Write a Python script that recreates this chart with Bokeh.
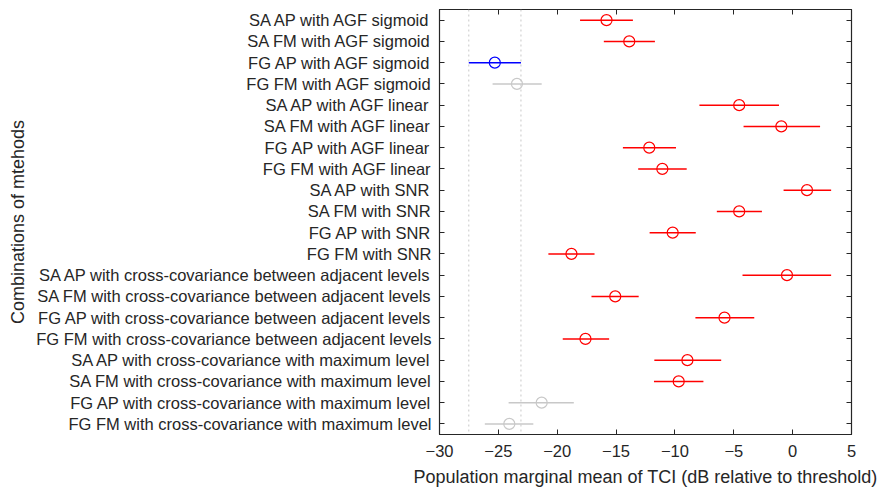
from bokeh.plotting import figure
from bokeh.models import Range1d, LinearAxis, FixedTicker, Span, ColumnDataSource
from bokeh.embed import file_html
from bokeh.resources import INLINE

labels = [
    "SA AP with AGF sigmoid",
    "SA FM with AGF sigmoid",
    "FG AP with AGF sigmoid",
    "FG FM with AGF sigmoid",
    "SA AP with AGF linear",
    "SA FM with AGF linear",
    "FG AP with AGF linear",
    "FG FM with AGF linear",
    "SA AP with SNR",
    "SA FM with SNR",
    "FG AP with SNR",
    "FG FM with SNR",
    "SA AP with cross-covariance between adjacent levels",
    "SA FM with cross-covariance between adjacent levels",
    "FG AP with cross-covariance between adjacent levels",
    "FG FM with cross-covariance between adjacent levels",
    "SA AP with cross-covariance with maximum level",
    "SA FM with cross-covariance with maximum level",
    "FG AP with cross-covariance with maximum level",
    "FG FM with cross-covariance with maximum level",
]
means = [-15.81, -13.88, -25.30, -23.42, -4.54, -0.96, -12.18, -11.07, 1.22, -4.54,
         -10.19, -18.79, -0.48, -15.07, -5.79, -17.60, -8.94, -9.68, -21.32, -24.07]
lower = [-18.06, -16.04, -27.51, -25.49, -7.92, -4.17, -14.42, -13.12, -0.77, -6.44,
         -12.15, -20.75, -4.26, -17.09, -8.26, -19.53, -11.75, -11.78, -24.13, -26.15]
upper = [-13.57, -11.70, -23.08, -21.32, -1.16, 2.33, -9.91, -9.00, 3.27, -2.61,
         -8.23, -16.83, 3.27, -13.08, -3.26, -15.59, -6.07, -7.58, -18.59, -22.03]
group_status = ["diff", "diff", "selected", "same", "diff", "diff", "diff", "diff", "diff", "diff",
                "diff", "diff", "diff", "diff", "diff", "diff", "diff", "diff", "same", "same"]
x_ticks = [-30, -25, -20, -15, -10, -5, 0, 5]

status_colors = {"diff": "#ff0000", "selected": "#0000ff", "same": "#c8c8c8"}
TXT = "#262626"
FONT = "Liberation Sans"

rows = list(range(1, len(labels) + 1))
colors = [status_colors[s] for s in group_status]
src = ColumnDataSource(dict(y=rows, m=means, lo=lower, hi=upper, c=colors))

p = figure(width=882, height=489, output_backend="svg", toolbar_location=None,
           x_range=Range1d(-30, 5), y_range=Range1d(len(labels) + 0.5, 0.5),
           min_border_left=439, min_border_right=31, min_border_top=9, min_border_bottom=52)
p.grid.visible = False
p.outline_line_color = TXT
p.outline_line_width = 1.2
p.background_fill_color = "white"
p.border_fill_color = "white"

# comparison interval of the selected group
sel = group_status.index("selected")
for xv in (lower[sel], upper[sel]):
    p.add_layout(Span(location=xv, dimension="height", line_color="#c8c8c8",
                      line_dash="2 3", line_width=1))

p.segment(x0="lo", x1="hi", y0="y", y1="y", color="c", line_width=1.5, source=src)
p.scatter(x="m", y="y", marker="circle", size=11, fill_color=None, line_color="c",
          line_width=1.2, source=src)

# axes
xa = p.xaxis[0]
xa.ticker = FixedTicker(ticks=x_ticks)
ya = p.yaxis[0]
ya.ticker = FixedTicker(ticks=rows)
ya.major_label_overrides = {r: l for r, l in zip(rows, labels)}

for ax in (xa, ya):
    ax.major_tick_in = 5
    ax.major_tick_out = 0
    ax.minor_tick_line_color = None
    ax.axis_line_color = TXT
    ax.major_tick_line_color = TXT
    ax.major_label_text_color = TXT
    ax.major_label_text_font = FONT
    ax.major_label_text_font_size = "16.5px"
    ax.axis_label_text_color = TXT
    ax.axis_label_text_font = FONT
    ax.axis_label_text_font_size = "18px"
    ax.axis_label_text_font_style = "normal"

xa.axis_label = "Population marginal mean of TCI (dB relative to threshold)"
ya.axis_label = "Combinations of mtehods"
xa.major_label_standoff = 10
ya.major_label_standoff = 8
xa.axis_label_standoff = 7
ya.axis_label_standoff = 5

# box ticks on top/right (no labels)
ra = LinearAxis(ticker=FixedTicker(ticks=rows), major_tick_in=5, major_tick_out=0,
                minor_tick_line_color=None, axis_line_color=TXT, major_tick_line_color=TXT,
                major_label_overrides={r: "" for r in rows}, major_label_standoff=0)
ta = LinearAxis(ticker=FixedTicker(ticks=x_ticks), major_tick_in=5, major_tick_out=0,
                minor_tick_line_color=None, axis_line_color=TXT, major_tick_line_color=TXT,
                major_label_overrides={t: "" for t in x_ticks}, major_label_standoff=0)
p.add_layout(ra, "right")
p.add_layout(ta, "above")

open("out.html", "w").write(file_html(p, INLINE))
